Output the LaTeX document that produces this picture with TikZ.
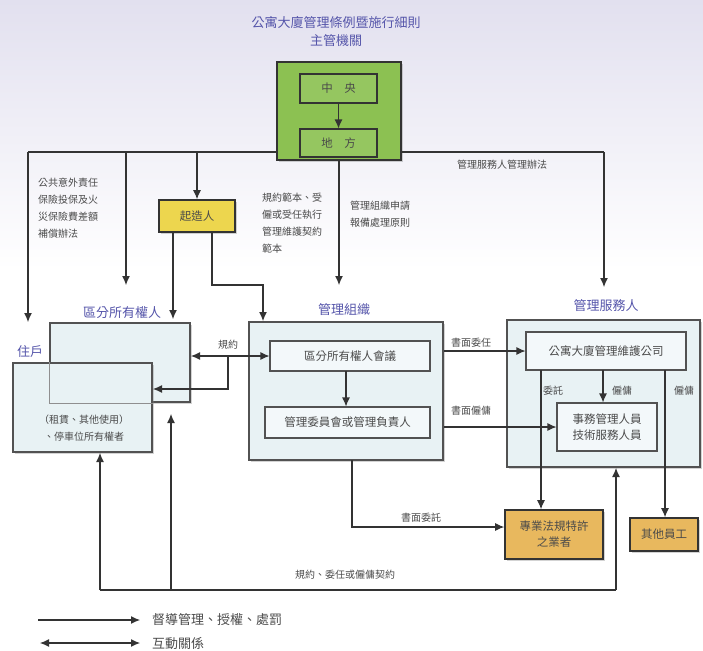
\documentclass[tikz,border=0pt]{standalone}
\usepackage{fontspec}
\setmainfont{Noto Sans CJK TC}
\usetikzlibrary{arrows.meta,shadows}
\definecolor{txt}{HTML}{4A4A4A}
\definecolor{hdr}{HTML}{5555AA}
\definecolor{ln}{HTML}{333333}
\definecolor{boxfill}{HTML}{E8F2F4}
\definecolor{grn}{HTML}{8CC152}
\definecolor{yel}{HTML}{EDD64E}
\definecolor{orfill}{HTML}{E8B85E}
\definecolor{bgtop}{HTML}{E2E0EF}
\tikzset{
 line/.style={draw=ln, line width=1.1pt},
 arr/.style={line, -{Latex[length=9pt,width=8pt]}},
 darr/.style={line, {Latex[length=9pt,width=8pt]}-{Latex[length=9pt,width=8pt]}},
 shad/.style={drop shadow={opacity=0.35, shadow xshift=2pt, shadow yshift=-2pt}},
 bigbox/.style={draw=ln!85, line width=2pt, fill=boxfill, shad, inner sep=0pt},
 inbox/.style={draw=ln!85, line width=1.1pt, fill=boxfill!50!white, inner sep=0pt, text=txt, font=\fontsize{11.5}{16}\selectfont, align=center},
 greenbox/.style={draw=ln, line width=2pt, fill=grn, shad, inner sep=0pt},
 greeninner/.style={draw=ln, line width=1.1pt, fill=grn!92!white, inner sep=0pt, text=txt, font=\fontsize{11.5}{14}\selectfont},
 yelbox/.style={draw=ln, line width=1.6pt, fill=yel, shad, inner sep=0pt, text=txt, font=\fontsize{11.5}{14}\selectfont, align=center},
 orbox/.style={draw=ln, line width=1.6pt, fill=orfill, shad, inner sep=0pt, text=txt, font=\fontsize{11.5}{16}\selectfont, align=center},
 hdrlbl/.style={text=hdr, font=\fontsize{13}{18}\selectfont, inner sep=0pt, align=center},
 lbl/.style={text=txt, font=\fontsize{10}{17}\selectfont, inner sep=0pt, align=left},
 leg/.style={text=txt, font=\fontsize{13}{16}\selectfont, inner sep=0pt, anchor=west},
}
\begin{document}
\begin{tikzpicture}[x=1pt,y=-1pt]
\useasboundingbox (0,0) rectangle (703,650);
\fill[top color=bgtop, bottom color=white] (0,0) rectangle (703,270);

% title
\node[hdrlbl] (title) at (336,32) {公寓大廈管理條例暨施行細則\\主管機關};

% authority
\node[greenbox, minimum width=124pt, minimum height=98pt] (gov) at (339,111) {};
\node[greeninner, minimum width=77pt, minimum height=29pt] (central) at (338.5,88.5) {中\quad 央};
\node[greeninner, minimum width=77pt, minimum height=28pt] (local) at (338.5,143) {地\quad 方};
\draw[arr] (central) -- (local);

% builder
\node[yelbox, minimum width=76pt, minimum height=32pt] (builder) at (197,216) {起造人};

% owners and residents
\node[hdrlbl] (ownlbl) at (122,313) {區分所有權人};
\node[bigbox, minimum width=140pt, minimum height=79pt] (owners) at (120,362.5) {};
\node[hdrlbl] (reslbl) at (30,352) {住戶};
\node[bigbox, minimum width=139pt, minimum height=89pt] (resident) at (82.5,407.5) {};
\draw[draw=ln!55, line width=0.8pt] (owners.west |- resident.north) -- (owners.south west) -- (owners.south -| resident.east);
\node[lbl, align=center] (restxt) at (84,428) {（租賃、其他使用）\\、停車位所有權者};

% management organisation
\node[hdrlbl] (orglbl) at (344,310) {管理組織};
\node[bigbox, minimum width=194pt, minimum height=138pt] (org) at (346,391) {};
\node[inbox, minimum width=160pt, minimum height=30pt] (meeting) at (350,356) {區分所有權人會議};
\node[inbox, minimum width=165pt, minimum height=31pt] (committee) at (347.5,422.5) {管理委員會或管理負責人};
\coordinate (mc) at (346,371);
\draw[arr] (mc) -- (mc |- committee.north);

% management service
\node[hdrlbl] (svclbl) at (606,306) {管理服務人};
\node[bigbox, minimum width=193pt, minimum height=147pt] (svc) at (603.5,393.5) {};
\node[inbox, minimum width=160pt, minimum height=38pt] (company) at (606,351) {公寓大廈管理維護公司};
\node[inbox, minimum width=100pt, minimum height=48pt] (staff) at (607,427) {事務管理人員\\技術服務人員};

\node[orbox, minimum width=98pt, minimum height=49pt] (pro) at (554,534.5) {專業法規特許\\之業者};
\node[orbox, minimum width=68pt, minimum height=33pt] (other) at (664,534.5) {其他員工};

% texts
\node[lbl, anchor=north west] (t1) at (38,178) {公共意外責任\\保險投保及火\\災保險費差額\\補償辦法};
\node[lbl, anchor=north west] (t2) at (262,193) {規約範本、受\\僱或受任執行\\管理維護契約\\範本};
\node[lbl, anchor=north west] (t3) at (350,201) {管理組織申請\\報備處理原則};
\node[lbl, anchor=west] (t4) at (457,165) {管理服務人管理辦法};

% top connectors
\coordinate (jl) at (28,152);
\coordinate (jr) at (604,152);
\coordinate (a126) at (126,152);
\coordinate (a126e) at (126,285);
\coordinate (jre) at (604,287);
\coordinate (gse) at (339,285);
\draw[line] (gov.west |- jl) -- (jl);
\draw[line] (gov.east |- jr) -- (jr);
\draw[arr] (jl) -- (jl |- owners.north);
\draw[arr] (a126) -- (a126e);
\draw[arr] (builder.north |- jl) -- (builder.north);
\draw[arr] (jr) -- (jre);
\draw[arr] (gov.south) -- (gse);

% builder connectors
\coordinate (b1s) at (173,232);
\coordinate (b1e) at (173,319);
\coordinate (b2s) at (212,232);
\coordinate (b2m) at (212,285);
\coordinate (b2n) at (263,285);
\draw[arr] (b1s) -- (b1e);
\draw[arr] (b2s) -- (b2m) -- (b2n) -- (b2n |- org.north);

% rules
\coordinate (rj) at (228,356);
\coordinate (rjd) at (228,389);
\draw[darr] (owners.east |- meeting.west) -- (meeting.west);
\draw[arr] (rj) -- (rjd) -- (resident.east |- rjd);
\node[lbl] (rl) at (228,345) {規約};

% to service
\draw[arr] (org.east |- company.west) -- (company.west);
\node[lbl] (l1) at (471,343) {書面委任};
\draw[arr] (org.east |- staff.west) -- (staff.west);
\node[lbl] (l2) at (471,411) {書面僱傭};

\coordinate (c1) at (603,370);
\draw[arr] (c1) -- (c1 |- staff.north);
\node[lbl] (l3) at (622,391) {僱傭};
\coordinate (c2) at (541,370);
\draw[arr] (c2) -- (c2 |- pro.north);
\node[lbl] (l4) at (553,391) {委託};
\coordinate (c3) at (665,370);
\draw[arr] (c3) -- (c3 |- other.north);
\node[lbl] (l5) at (684,391) {僱傭};

% written commission
\coordinate (w1) at (352,460);
\coordinate (w2) at (352,527);
\draw[arr] (w1) -- (w2) -- (pro.west |- w2);
\node[lbl] (l6) at (421,518) {書面委託};

% bottom
\coordinate (bL) at (100,590);
\coordinate (bM) at (171,590);
\coordinate (bMe) at (171,414);
\coordinate (bR) at (616,590);
\draw[line] (bL) -- (bR);
\draw[arr] (bL) -- (bL |- resident.south);
\draw[arr] (bM) -- (bMe);
\draw[arr] (bR) -- (bR |- svc.south);
\node[lbl] (l7) at (345,575) {規約、委任或僱傭契約};

% legend
\coordinate (g1a) at (38,620);
\coordinate (g1b) at (140,620);
\coordinate (g2a) at (40,643);
\coordinate (g2b) at (140,643);
\draw[arr] (g1a) -- (g1b);
\draw[darr] (g2a) -- (g2b);
\node[leg] (lg1) at (152,620) {督導管理、授權、處罰};
\node[leg] (lg2) at (152,643) {互動關係};
\end{tikzpicture}
\end{document}
